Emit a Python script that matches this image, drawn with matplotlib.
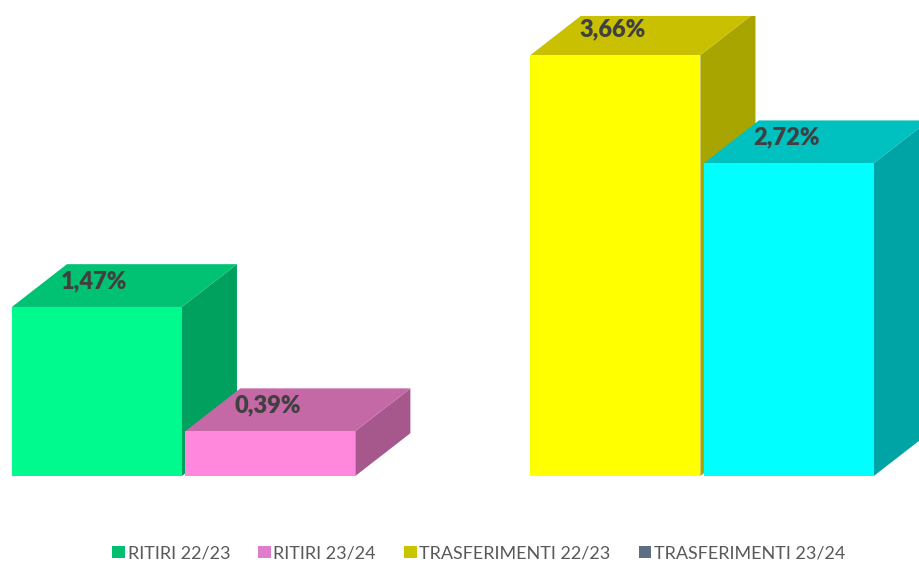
import matplotlib
matplotlib.use("Agg")
import matplotlib.pyplot as plt
from matplotlib.patches import Polygon, Patch

series = ["RITIRI 22/23", "RITIRI 23/24", "TRASFERIMENTI 22/23", "TRASFERIMENTI 23/24"]
values = [1.47, 0.39, 3.66, 2.72]
labels = ["1,47%", "0,39%", "3,66%", "2,72%"]
group = [0, 0, 1, 1]

front_col = ["#00fa8e", "#ff88dc", "#ffff00", "#00ffff"]
top_col = ["#00c272", "#c468a6", "#c8c000", "#00c0c0"]
side_col = ["#00a05e", "#a6588c", "#a8a400", "#00a4a4"]
legend_col = ["#00c070", "#e07ccc", "#c8c400", "#5e6e84"]

plt.rcParams["font.family"] = ["Lato", "DejaVu Sans"]

fig = plt.figure(figsize=(9.19, 5.63), dpi=100)
ax = fig.add_axes([0, 87 / 563, 1, 460 / 563])
ax.set_xlim(0, 919 / 170)
ax.set_ylim(0, 4.0)
ax.axis("off")

width = 1.0
gap = 0.02
group_start = [0.07, 3.12]
dx, dy = 0.324, 0.372

for i, v in enumerate(values):
    k = i % 2
    x0 = group_start[group[i]] + k * (width + gap)
    x1 = x0 + width
    # side face
    ax.add_patch(Polygon([(x1, 0), (x1 + dx, dy), (x1 + dx, v + dy), (x1, v)],
                         closed=True, facecolor=side_col[i], edgecolor="none", zorder=2 + i))
    # top face
    ax.add_patch(Polygon([(x0, v), (x0 + dx, v + dy), (x1 + dx, v + dy), (x1, v)],
                         closed=True, facecolor=top_col[i], edgecolor="none", zorder=2 + i))
    # front face
    ax.bar(x0, v, width=width, align="edge", color=front_col[i], edgecolor="none", zorder=2 + i)
    ax.text(x0 + 0.29, v + 0.225, labels[i], fontsize=17, fontweight="heavy",
            color="#404040", ha="left", va="center", zorder=10)

handles = [Patch(facecolor=c, edgecolor="none") for c in legend_col]
fig.legend(handles, series, loc="center", bbox_to_anchor=(0.521, 0.017),
           ncol=4, frameon=False, fontsize=13, handlelength=0.7, handleheight=0.7,
           handletextpad=0.15, columnspacing=1.55, labelcolor="#595959")

fig.savefig("out.png", dpi=100)
